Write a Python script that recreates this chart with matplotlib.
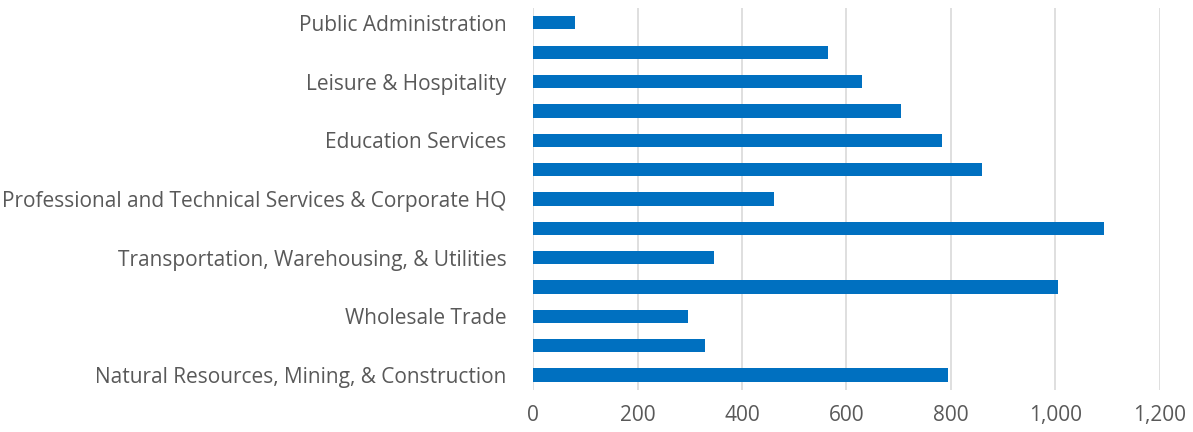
import matplotlib
matplotlib.use("Agg")
import matplotlib.pyplot as plt
from matplotlib.ticker import FuncFormatter

categories = [
    "Natural Resources, Mining, & Construction",
    "Manufacturing",
    "Wholesale Trade",
    "Retail Trade",
    "Transportation, Warehousing, & Utilities",
    "Information & Financial Activities",
    "Professional and Technical Services & Corporate HQ",
    "Administrative Support & Waste Services",
    "Education Services",
    "Health Care & Social Assistance",
    "Leisure & Hospitality",
    "Other Services",
    "Public Administration",
]
values = [794, 330, 296, 1005, 347, 1093, 462, 860, 782, 704, 630, 565, 81]
xticks = [0, 200, 400, 600, 800, 1000, 1200]

bar_color = "#0070C0"
text_color = "#595959"
grid_color = "#D9D9D9"

plt.rcParams["font.family"] = ["Open Sans", "DejaVu Sans"]

fig = plt.figure(figsize=(11.93, 4.32), dpi=100)
ax = fig.add_axes([0.4468, 0.098, 0.5255, 0.883])

ypos = list(range(len(categories)))
ax.barh(ypos, values, height=0.45, color=bar_color, zorder=3)

ax.set_ylim(-0.5, len(categories) - 0.5)
ax.set_xlim(0, 1200)
ax.set_xticks(xticks)
ax.xaxis.set_major_formatter(FuncFormatter(lambda v, p: f"{int(v):,}"))
ax.set_yticks(ypos)
ax.set_yticklabels([c if i % 2 == 0 else "" for i, c in enumerate(categories)])

ax.grid(axis="x", color=grid_color, linewidth=1.2, zorder=0)
for s in ax.spines.values():
    s.set_visible(False)
ax.tick_params(axis="both", length=0, labelsize=15, colors=text_color)
ax.tick_params(axis="x", pad=11)
ax.tick_params(axis="y", pad=19)

fig.savefig("out.png", dpi=100)
